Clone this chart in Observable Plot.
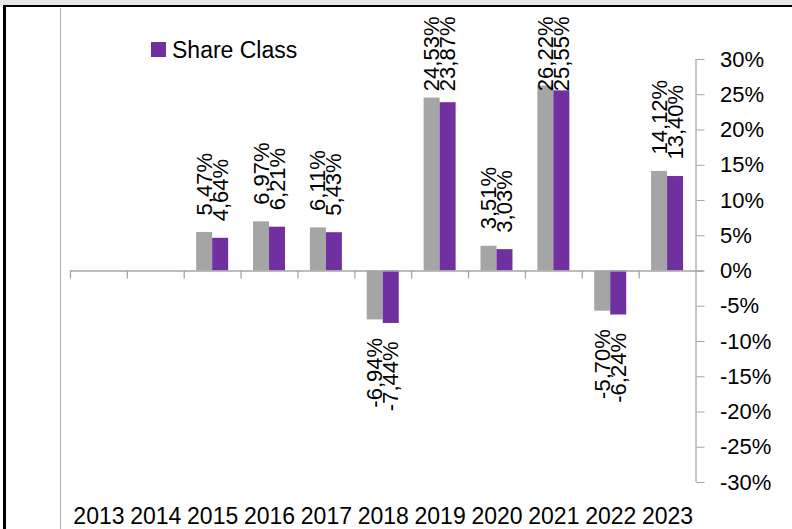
<!DOCTYPE html>
<html>
<head>
<meta charset="utf-8">
<script src="https://cdn.jsdelivr.net/npm/d3@7"></script>
<script src="https://cdn.jsdelivr.net/npm/@observablehq/plot@0.6"></script>
<style>
  body { margin: 0; background: #fff; }
  #wrap { position: relative; width: 792px; height: 529px; overflow: hidden; font-family: "Liberation Sans", Arial, sans-serif; background: #fff; }
  #chart { position: absolute; left: 0; top: 0; }
  #topband { position: absolute; left: 0; top: 0; width: 792px; height: 5px; background: #e6e6e6; }
  #topline { position: absolute; left: 3px; top: 5px; width: 789px; height: 2px; background: #000; }
  #leftline { position: absolute; left: 3px; top: 5px; width: 2.5px; height: 524px; background: #000; }
  #innerline { position: absolute; left: 59.5px; top: 8px; width: 1.6px; height: 521px; background: #b0b0b0; }
  #swatch { position: absolute; left: 151px; top: 42px; width: 15px; height: 15px; background: #7030a0; }
  #legtext { position: absolute; left: 172px; top: 38.8px; font-size: 23px; line-height: 23px; color: #000; white-space: nowrap; }
</style>
</head>
<body>
<div id="wrap">
  <div id="chart"></div>
  <div id="topband"></div>
  <div id="topline"></div>
  <div id="leftline"></div>
  <div id="innerline"></div>
  <div id="swatch"></div>
  <div id="legtext">Share Class</div>
</div>
<script>
// ---- data ----
const years = ["2013", "2014", "2015", "2016", "2017", "2018", "2019", "2020", "2021", "2022", "2023"];
const benchmark = [null, null, 5.47, 6.97, 6.11, -6.94, 24.53, 3.51, 26.22, -5.70, 14.12];
const shareClass = [null, null, 4.64, 6.21, 5.43, -7.44, 23.87, 3.03, 25.55, -6.24, 13.40];
const yTicks = [-30, -25, -20, -15, -10, -5, 0, 5, 10, 15, 20, 25, 30];

// ---- layout ----
const W = 792, H = 529;
const mL = 70, mR = 96.5, mT = 59, mB = 47;
const band = (W - mL - mR) / years.length;
const barW = 16;
const padOut = (band - 2 * barW) / 2;
const labelTop = 16;     // labels pushed down to stay inside the chart area
const clampAbove = 20;   // values whose label would overflow the top

const GRAY = "#a5a5a5", PURPLE = "#7030a0", AXIS = "#a6a6a6";
const fmt = v => v.toFixed(2).replace(".", ",") + "%";

const rowsB = years.map((y, i) => ({year: y, v: benchmark[i]})).filter(d => d.v != null);
const rowsS = years.map((y, i) => ({year: y, v: shareClass[i]})).filter(d => d.v != null);

function labelMarks(rows, dx) {
  const common = {x: "year", text: d => fmt(d.v), rotate: -90, lineAnchor: "middle", fontSize: 22, dx, fill: "#000"};
  return [
    Plot.text(rows.filter(d => d.v >= 0 && d.v <= clampAbove), {...common, y: "v", textAnchor: "start", dy: -17}),
    Plot.text(rows.filter(d => d.v > clampAbove), {...common, frameAnchor: "top", textAnchor: "end", dy: labelTop - mT}),
    Plot.text(rows.filter(d => d.v < 0), {...common, y: "v", textAnchor: "end", dy: 18})
  ];
}

const chart = Plot.plot({
  width: W, height: H,
  marginLeft: mL, marginRight: mR, marginTop: mT, marginBottom: mB,
  style: {fontFamily: "'Liberation Sans', Arial, sans-serif", fontSize: "22px", background: "transparent", overflow: "visible"},
  x: {type: "band", domain: years, padding: 0, round: false, axis: null},
  y: {domain: [yTicks[0], yTicks[yTicks.length - 1]], axis: null},
  marks: [
    Plot.barY(rowsB, {x: "year", y: "v", fill: GRAY, insetLeft: padOut, insetRight: padOut + barW}),
    Plot.barY(rowsS, {x: "year", y: "v", fill: PURPLE, insetLeft: padOut + barW, insetRight: padOut}),
    Plot.ruleY([0], {stroke: AXIS, strokeWidth: 1.3, insetRight: -8}),
    Plot.ruleX(years, {x: d => d, y1: 0, y2: 0, insetBottom: -8, dx: -band / 2, stroke: AXIS, strokeWidth: 1.3}),
    Plot.ruleX([years[years.length - 1]], {x: d => d, y1: yTicks[0], y2: yTicks[yTicks.length - 1], dx: band / 2, stroke: AXIS, strokeWidth: 1.3}),
    Plot.axisY({anchor: "right", ticks: yTicks, tickFormat: d => `${d}%`, tickSize: 8, tickPadding: 16, stroke: AXIS, fontSize: 22, label: null}),
    Plot.axisX({anchor: "bottom", tickSize: 0, tickPadding: 25, fontSize: 23, label: null}),
    ...labelMarks(rowsB, -barW / 2),
    ...labelMarks(rowsS, barW / 2)
  ]
});
document.getElementById("chart").appendChild(chart);
</script>
</body>
</html>
